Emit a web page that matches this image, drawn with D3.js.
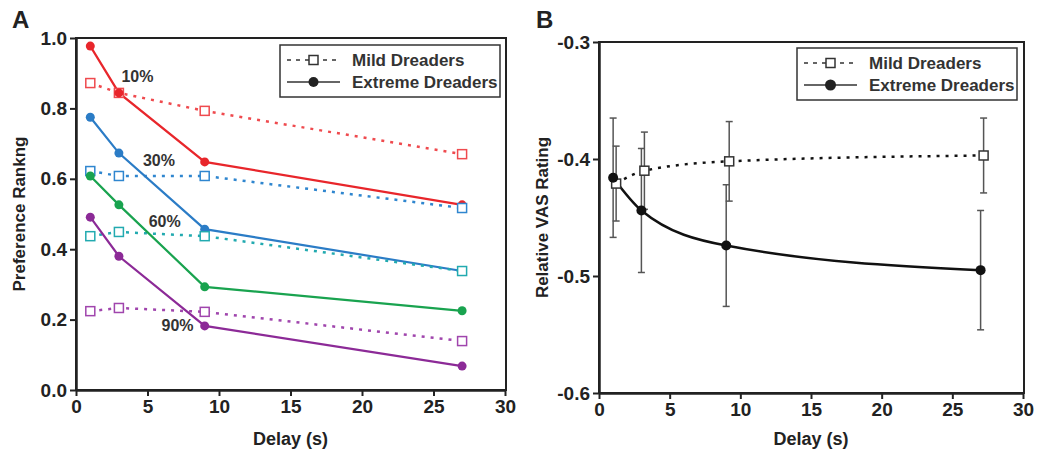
<!DOCTYPE html>
<html>
<head>
<meta charset="utf-8">
<script src="https://cdn.jsdelivr.net/npm/d3@7"></script>
<style>
  body { margin: 0; background: #fff; }
  svg { font-family: "Liberation Sans", Arial, sans-serif; font-weight: bold; }
</style>
</head>
<body>
<svg id="chart" width="1045" height="457"></svg>
<script>
// delays in seconds
const delays = [1, 3, 9, 27];
const xTicks = [0, 5, 10, 15, 20, 25, 30];

// panel A: preference ranking by probability level
const levels = ["10%", "30%", "60%", "90%"];
const extreme10 = [0.977, 0.844, 0.648, 0.526];
const mild10 = [0.872, 0.844, 0.793, 0.670];
const extreme30 = [0.775, 0.673, 0.457, 0.338];
const mild30 = [0.622, 0.608, 0.608, 0.517];
const extreme60 = [0.608, 0.526, 0.293, 0.225];
const mild60 = [0.437, 0.449, 0.437, 0.338];
const extreme90 = [0.491, 0.380, 0.182, 0.068];
const mild90 = [0.224, 0.233, 0.222, 0.139];
const yTicksA = [0, 0.2, 0.4, 0.6, 0.8, 1.0];

// panel B: relative VAS rating (mean, error)
const mildVAS = [-0.421, -0.410, -0.402, -0.397];
const mildErr = [0.032, 0.033, 0.034, 0.032];
const extremeVAS = [-0.416, -0.444, -0.474, -0.495];
const extremeErr = [0.051, 0.053, 0.052, 0.051];
const yTicksB = [-0.6, -0.5, -0.4, -0.3];

const legendNames = ["Mild Dreaders", "Extreme Dreaders"];

const svg = d3.select("#chart");
const dotted = "3,6";
const fmt = d => d.toFixed(1); // plain hyphen for negatives, like the original

function drawAxes(x, y, yTicks, yLabel) {
  const [x0, x1] = x.range();
  const [y0, y1] = y.range();

  svg.append("rect")
    .attr("x", x0).attr("y", y1)
    .attr("width", x1 - x0 + 1).attr("height", y0 - y1)
    .attr("fill", "none").attr("stroke", "#222").attr("stroke-width", 2);

  const gx = svg.append("g")
    .attr("transform", `translate(0,${y0})`)
    .call(d3.axisBottom(x).tickValues(xTicks).tickSize(6).tickSizeOuter(0).tickPadding(4));
  const gy = svg.append("g")
    .attr("transform", `translate(${x0},0)`)
    .call(d3.axisLeft(y).tickValues(yTicks).tickFormat(fmt).tickSize(6).tickSizeOuter(0).tickPadding(3));

  [gx, gy].forEach(g => {
    g.select(".domain").attr("stroke", "#222").attr("stroke-width", 2.5);
    g.selectAll(".tick line").attr("stroke", "#222").attr("stroke-width", 2);
    g.selectAll(".tick text")
      .attr("fill", "#222")
      .style("font-size", "19px")
      .style("font-family", "'Liberation Sans', Arial, sans-serif")
      .style("font-weight", "bold");
  });

  svg.append("text")
    .attr("x", (x0 + x1) / 2).attr("y", 445)
    .attr("text-anchor", "middle")
    .style("font-size", "18px").attr("fill", "#222")
    .text("Delay (s)");

  svg.append("text")
    .attr("transform", `translate(${x0 - 51},${(y0 + y1) / 2}) rotate(-90)`)
    .attr("text-anchor", "middle")
    .style("font-size", "17px").attr("fill", "#222")
    .text(yLabel);
}

function drawLegend(lx, ly, w, sq, r) {
  const g = svg.append("g").attr("transform", `translate(${lx},${ly})`);
  g.append("rect").attr("width", w).attr("height", 52)
    .attr("fill", "#fff").attr("stroke", "#333").attr("stroke-width", 1.5);

  // mild row
  g.append("line").attr("x1", 7).attr("x2", 60).attr("y1", 15).attr("y2", 15)
    .attr("stroke", "#333").attr("stroke-width", 1.5).attr("stroke-dasharray", "4,5");
  g.append("rect").attr("x", 33.5 - sq / 2).attr("y", 15 - sq / 2)
    .attr("width", sq).attr("height", sq)
    .attr("fill", "#fff").attr("stroke", "#333").attr("stroke-width", 1.5);
  // extreme row
  g.append("line").attr("x1", 7).attr("x2", 60).attr("y1", 37).attr("y2", 37)
    .attr("stroke", "#333").attr("stroke-width", 1.5);
  g.append("circle").attr("cx", 33.5).attr("cy", 37).attr("r", r).attr("fill", "#222");

  g.selectAll("text.leg").data(legendNames).enter().append("text")
    .attr("class", "leg")
    .attr("x", 72).attr("y", (d, i) => 21 + i * 22)
    .style("font-size", "17px").attr("fill", "#333")
    .text(d => d);
}

// ---------- Panel A ----------
const xA = d3.scaleLinear().domain([0, 30]).range([76, 505]);
const yA = d3.scaleLinear().domain([0, 1]).range([390, 38]);
drawAxes(xA, yA, yTicksA, "Preference Rankng");

const seriesA = [
  { mild: mild10, extreme: extreme10, mildColor: "#ef4a4e", color: "#e8262b" },
  { mild: mild30, extreme: extreme30, mildColor: "#2f86cf", color: "#2b7cc6" },
  { mild: mild60, extreme: extreme60, mildColor: "#22aab0", color: "#19a34f" },
  { mild: mild90, extreme: extreme90, mildColor: "#a045ad", color: "#8c2a97" }
];

const lineA = d3.line().x((d, i) => xA(delays[i])).y(d => yA(d));

seriesA.forEach(s => {
  svg.append("path").datum(s.mild)
    .attr("d", lineA).attr("fill", "none")
    .attr("stroke", s.mildColor).attr("stroke-width", 2.5)
    .attr("stroke-dasharray", dotted);
  svg.append("path").datum(s.extreme)
    .attr("d", lineA).attr("fill", "none")
    .attr("stroke", s.color).attr("stroke-width", 2.2);
});

seriesA.forEach(s => {
  svg.selectAll(null).data(s.mild).enter().append("rect")
    .attr("x", (d, i) => xA(delays[i]) - 4.5).attr("y", d => yA(d) - 4.5)
    .attr("width", 9).attr("height", 9)
    .attr("fill", "#fff").attr("stroke", s.mildColor).attr("stroke-width", 1.5);
  svg.selectAll(null).data(s.extreme).enter().append("circle")
    .attr("cx", (d, i) => xA(delays[i])).attr("cy", d => yA(d))
    .attr("r", 4.5).attr("fill", s.color);
});

// probability labels, placed in data space
const labelSpots = [[4.3, 0.876], [5.8, 0.635], [6.2, 0.464], [7.1, 0.169]];
svg.selectAll("text.lvl").data(levels).enter().append("text")
  .attr("class", "lvl")
  .attr("x", (d, i) => xA(labelSpots[i][0]))
  .attr("y", (d, i) => yA(labelSpots[i][1]))
  .attr("text-anchor", "middle")
  .style("font-size", "16px").attr("fill", "#333")
  .text(d => d);

drawLegend(280, 45, 220, 9, 5);

svg.append("text").attr("x", 12).attr("y", 28)
  .style("font-size", "24px").attr("fill", "#222").text("A");

// ---------- Panel B ----------
const xB = d3.scaleLinear().domain([0, 30]).range([599, 1023]);
const yB = d3.scaleLinear().domain([-0.6, -0.3]).range([393, 42]);
drawAxes(xB, yB, yTicksB, "Relative VAS Rating");

const dodge = 3;
const groupsB = [
  { vals: mildVAS, err: mildErr, shift: dodge, dash: dotted },
  { vals: extremeVAS, err: extremeErr, shift: 0, dash: null }
];

// error bars
groupsB.forEach(gr => {
  const g = svg.append("g").attr("stroke", "#555").attr("stroke-width", 1.5);
  gr.vals.forEach((v, i) => {
    const cx = xB(delays[i]) + gr.shift;
    const top = yB(v + gr.err[i]);
    const bot = yB(v - gr.err[i]);
    g.append("line").attr("x1", cx).attr("x2", cx).attr("y1", top).attr("y2", bot);
    g.append("line").attr("x1", cx - 3.5).attr("x2", cx + 3.5).attr("y1", top).attr("y2", top);
    g.append("line").attr("x1", cx - 3.5).attr("x2", cx + 3.5).attr("y1", bot).attr("y2", bot);
  });
});

groupsB.forEach(gr => {
  const line = d3.line()
    .x((d, i) => xB(delays[i]) + gr.shift)
    .y(d => yB(d))
    .curve(d3.curveMonotoneX);
  svg.append("path").datum(gr.vals)
    .attr("d", line).attr("fill", "none")
    .attr("stroke", "#111").attr("stroke-width", 2.5)
    .attr("stroke-dasharray", gr.dash);
});

svg.selectAll(null).data(mildVAS).enter().append("rect")
  .attr("x", (d, i) => xB(delays[i]) + dodge - 4.5).attr("y", d => yB(d) - 4.5)
  .attr("width", 9).attr("height", 9)
  .attr("fill", "#fff").attr("stroke", "#333").attr("stroke-width", 1.5);
svg.selectAll(null).data(extremeVAS).enter().append("circle")
  .attr("cx", (d, i) => xB(delays[i])).attr("cy", d => yB(d))
  .attr("r", 5).attr("fill", "#111");

drawLegend(797, 48, 220, 9, 5.5);

svg.append("text").attr("x", 536).attr("y", 28)
  .style("font-size", "24px").attr("fill", "#222").text("B");
</script>
</body>
</html>
